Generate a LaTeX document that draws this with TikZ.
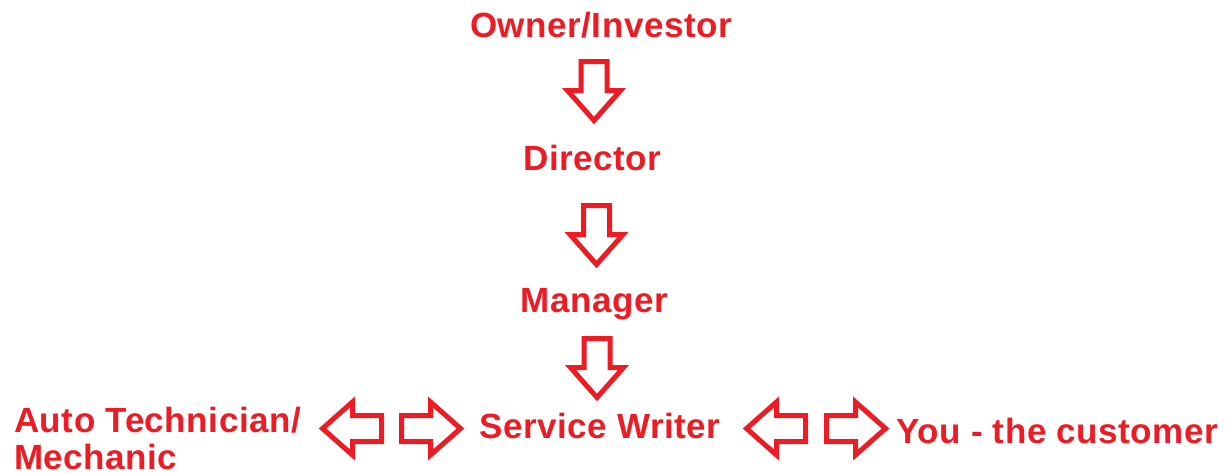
\documentclass[tikz,border=0pt]{standalone}
\usepackage{fontspec}
\setmainfont[LetterSpace=1.5]{Liberation Sans}
\definecolor{paintred}{HTML}{ED1C24}
\begin{document}
\begin{tikzpicture}[x=1pt,y=-1pt,
  lbl/.style={text=paintred, font=\fontsize{35}{37}\selectfont\bfseries, inner sep=0pt},
  blockarrow/.pic={
    \draw[draw=paintred, fill=white, line width=5pt, line join=miter]
      (2.5,-13) -- (31.5,-13) -- (31.5,-26.5) -- (61.5,0) -- (31.5,26.5) -- (31.5,13) -- (2.5,13) -- cycle;
  }]
\fill[white] (0,0) rectangle (1231,472);
\useasboundingbox (0,0) rectangle (1231,472);

\node[lbl, anchor=base] (owner) at (601,37) {Owner/Investor};
\node[lbl, anchor=base] (director) at (592.5,170) {Director};
\node[lbl, anchor=base] (manager) at (594.5,312) {Manager};
\node[lbl, anchor=base] (writer) at (600,438) {Service Writer};
\node[lbl, anchor=base west] (customer) at (896,443) {You - the customer};
\node[lbl, anchor=base west, align=left] (tech) at (14,469) {Auto Technician/\\Mechanic};

% vertical flow arrows
\pic[rotate=-90] (a1) at (594,59) {blockarrow};
\pic[rotate=-90] (a2) at (596.5,203) {blockarrow};
\pic[rotate=-90] (a3) at (597,336) {blockarrow};
% two-way arrows around the service writer
\pic[rotate=180] (b1) at (384,428.5) {blockarrow};
\pic (b2) at (399,428.5) {blockarrow};
\pic[rotate=180] (c1) at (808,428.5) {blockarrow};
\pic (c2) at (824,428.5) {blockarrow};
\end{tikzpicture}
\end{document}
